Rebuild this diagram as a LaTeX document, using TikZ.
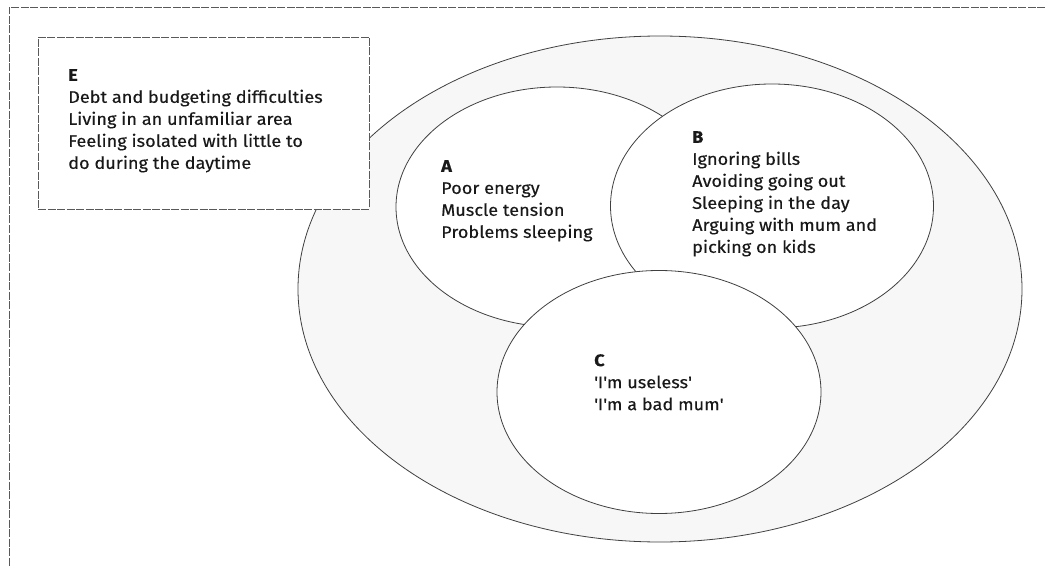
\documentclass[tikz,border=0pt]{standalone}
\usepackage{fontspec}
\setmainfont{Fira Sans}[FakeStretch=1.08, FakeBold=0.25]
\usetikzlibrary{shapes.geometric}
\newcommand{\sq}{\textquotesingle}
\begin{document}
\begin{tikzpicture}[x=1pt,y=-1pt,
  line/.style={draw=black!75, line width=0.8pt},
  framedash/.style={draw=black!65, line width=0.9pt, dash pattern=on 8pt off 1.5pt},
  oval/.style={ellipse, line, inner sep=0pt},
  txt/.style={anchor=north west, inner sep=0pt, align=left, text=black!90,
    font=\fontsize{16.8}{22}\selectfont}]
\useasboundingbox (0,0) rectangle (1045,567);
% frame (top and left edges)
\coordinate (ftl) at (9,7);
\coordinate (ftr) at (1045,7);
\coordinate (fbl) at (9,567);
\draw[framedash] (ftr) -- (ftl) -- (fbl);
% outer ellipse
\node[oval, fill=black!3, minimum width=724pt, minimum height=506pt] (outer) at (660,289) {};
% box E
\node[framedash, fill=white, minimum width=331pt, minimum height=172pt, inner sep=0pt] (Ebox) at (203.5,123) {};
% inner ellipses
\node[oval, fill=white, minimum width=322pt, minimum height=240pt] (A) at (557,207) {};
\node[oval, fill=white, minimum width=323pt, minimum height=244pt] (B) at (772,206) {};
\node[oval, fill=white, minimum width=324pt, minimum height=243pt] (C) at (659,392) {};
% texts
\node[txt] (Etxt) at (68,69) {\textbf{E}\\Debt and budgeting difficulties\\Living in an unfamiliar area\\Feeling isolated with little to\\do during the daytime};
\node[txt] (Atxt) at (441,160) {\textbf{A}\\Poor energy\\Muscle tension\\Problems sleeping};
\node[txt] (Btxt) at (692,131) {\textbf{B}\\Ignoring bills\\Avoiding going out\\Sleeping in the day\\Arguing with mum and\\picking on kids};
\node[txt] (Ctxt) at (594,354) {\textbf{C}\\\sq I\sq m useless\sq\\\sq I\sq m a bad mum\sq};
\end{tikzpicture}
\end{document}
